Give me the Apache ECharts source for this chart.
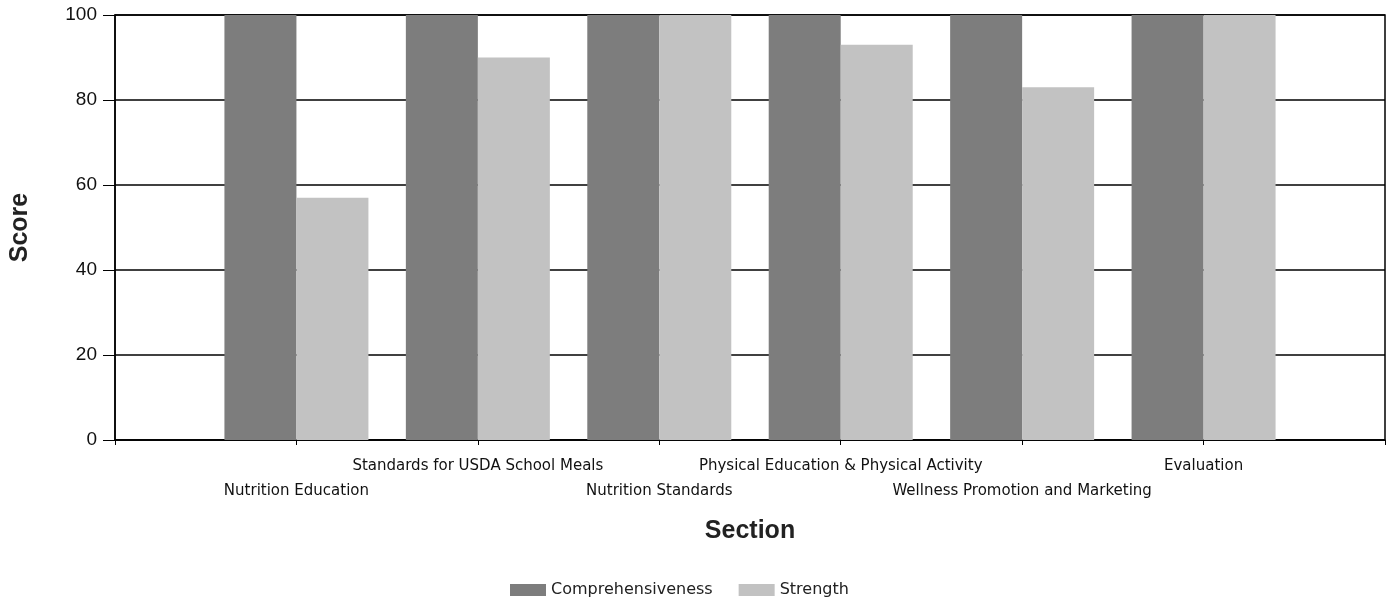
<!DOCTYPE html>
<html>
<head>
<meta charset="utf-8">
<script src="https://cdn.jsdelivr.net/npm/echarts@6/dist/echarts.min.js"></script>
<style>
html,body{margin:0;padding:0;background:#fff;}
#chart{width:1390px;height:603px;}
</style>
</head>
<body>
<div id="chart"></div>
<script>
const categories = ['', 'Nutrition Education', 'Standards for USDA School Meals', 'Nutrition Standards', 'Physical Education & Physical Activity', 'Wellness Promotion and Marketing', 'Evaluation', ''];
const comprehensiveness = [null, 100, 100, 100, 100, 100, 100, null];
const strength = [null, 57, 90, 100, 93, 83, 100, null];
const yTicks = [0, 20, 40, 60, 80, 100];

const chart = echarts.init(document.getElementById('chart'));
chart.setOption({
  animation: false,
  textStyle: { fontFamily: 'Liberation Sans, Arial, sans-serif' },
  grid: { left: 113, right: 5, top: 15, bottom: 163, show: true, borderColor: '#000', borderWidth: 1.5, backgroundColor: 'transparent' },
  legend: {
    bottom: 0, left: 505,
    itemWidth: 36, itemHeight: 12, itemGap: 26,
    icon: 'rect',
    textStyle: { fontSize: 16, color: '#222', fontFamily: 'DejaVu Sans, sans-serif' },
    data: ['Comprehensiveness', 'Strength']
  },
  xAxis: {
    type: 'category',
    data: categories,
    boundaryGap: false,
    name: 'Section',
    nameLocation: 'middle',
    nameGap: 79,
    nameTextStyle: { fontSize: 25, fontWeight: 'bold', color: '#222' },
    axisLine: { lineStyle: { color: '#000', width: 1.5 } },
    axisTick: { show: true, length: 5, lineStyle: { color: '#000' } },
    axisLabel: {
      interval: 0, margin: 14, fontSize: 15, color: '#111', lineHeight: 25,
      fontFamily: 'DejaVu Sans, sans-serif',
      formatter: (v, i) => (i % 2 === 1 ? '\n' + v : v)
    },
    splitLine: { show: false }
  },
  yAxis: {
    type: 'value',
    min: yTicks[0], max: yTicks[yTicks.length - 1], interval: 20,
    name: 'Score',
    nameLocation: 'middle',
    nameGap: 82,
    nameTextStyle: { fontSize: 25, fontWeight: 'bold', color: '#222' },
    axisLine: { show: true, lineStyle: { color: '#000', width: 1.5 } },
    axisTick: { show: true, length: 12, lineStyle: { color: '#000' } },
    axisLabel: { fontSize: 19, color: '#111', margin: 18 },
    splitLine: { show: true, lineStyle: { color: '#000', width: 1.5 } }
  },
  series: [
    { name: 'Comprehensiveness', type: 'bar', data: comprehensiveness, barWidth: 72, barGap: '0%', itemStyle: { color: '#7d7d7d' } },
    { name: 'Strength', type: 'bar', data: strength, barWidth: 72, barGap: '0%', itemStyle: { color: '#c2c2c2' } }
  ]
});
</script>
</body>
</html>
